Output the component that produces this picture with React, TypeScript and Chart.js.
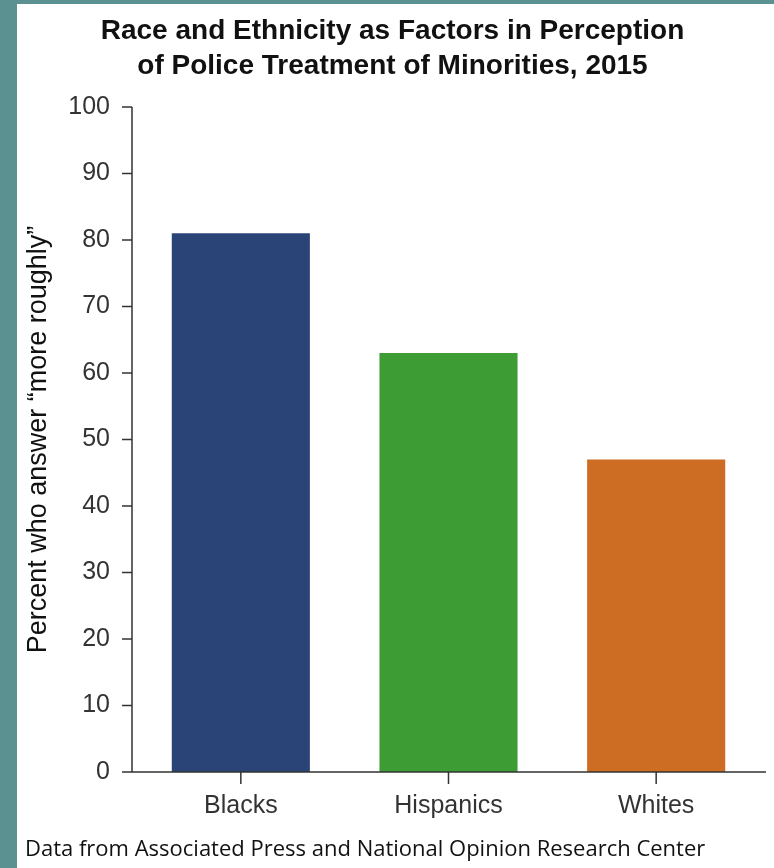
import React, { useEffect, useRef } from "react";
import { Chart, registerables } from "chart.js";

Chart.register(...registerables);

const categories: string[] = ["Blacks", "Hispanics", "Whites"];
const percentMoreRoughly: number[] = [81, 63, 47];
const barColors: string[] = ["#2b4478", "#3d9c34", "#cd6c23"];
const titleLines: string[] = [
  "Race and Ethnicity as Factors in Perception",
  "of Police Treatment of Minorities, 2015",
];
const yAxisTitle = "Percent who answer \u201Cmore roughly\u201D";
const sourceNote = "Data from Associated Press and National Opinion Research Center";
const yMin = 0;
const yMax = 100;
const yStep = 10;

const axisPlugin = {
  id: "customAxes",
  afterDraw(chart: any) {
    const { ctx, chartArea, scales } = chart;
    const y = scales.y;
    const x = scales.x;
    const ax = chartArea.left - 5;
    const y0 = y.getPixelForValue(yMin);
    const yTop = y.getPixelForValue(yMax);
    ctx.save();
    ctx.strokeStyle = "#333333";
    ctx.lineWidth = 1.5;
    ctx.beginPath();
    ctx.moveTo(ax, yTop);
    ctx.lineTo(ax, y0);
    ctx.moveTo(ax - 10, y0);
    ctx.lineTo(chartArea.right + 6, y0);
    y.ticks.forEach((t: any) => {
      const py = y.getPixelForValue(t.value);
      ctx.moveTo(ax - 10, py);
      ctx.lineTo(ax, py);
    });
    x.ticks.forEach((_t: any, i: number) => {
      const px = x.getPixelForValue(i);
      ctx.moveTo(px, y0);
      ctx.lineTo(px, y0 + 12);
    });
    ctx.stroke();
    ctx.restore();
  },
};

export default function App() {
  const canvasRef = useRef<HTMLCanvasElement | null>(null);

  useEffect(() => {
    if (!canvasRef.current) return;
    const chart = new Chart(canvasRef.current, {
      type: "bar",
      data: {
        labels: categories,
        datasets: [
          {
            data: percentMoreRoughly,
            backgroundColor: barColors,
            borderWidth: 0,
            categoryPercentage: 1,
            barPercentage: 0.665,
          },
        ],
      },
      options: {
        responsive: false,
        animation: false,
        devicePixelRatio: 1,
        layout: { padding: { left: 8, right: 14, top: 0, bottom: 0 } },
        plugins: {
          legend: { display: false },
          tooltip: { enabled: false },
          title: {
            display: true,
            text: titleLines,
            color: "#111111",
            font: { family: "'Liberation Sans', Arial, sans-serif", size: 28, weight: "bold", lineHeight: "35px" },
            padding: { top: 9.5, bottom: 23.5 },
          },
          subtitle: {
            display: true,
            position: "bottom",
            align: "start",
            text: sourceNote,
            color: "#111111",
            font: { family: "'Open Sans', sans-serif", size: 22, lineHeight: "24px" },
            padding: { top: 0, bottom: 6 },
          },
        },
        scales: {
          x: {
            grid: { display: false, drawTicks: false },
            border: { display: false },
            ticks: {
              color: "#333333",
              font: { family: "'Liberation Sans', Arial, sans-serif", size: 25 },
              padding: 19,
            },
            afterFit: (s: any) => {
              s.height = 66;
            },
          },
          y: {
            min: yMin,
            max: yMax,
            grid: { display: false, drawTicks: false },
            border: { display: false },
            ticks: {
              stepSize: yStep,
              color: "#333333",
              font: { family: "'Liberation Sans', Arial, sans-serif", size: 25 },
              padding: 27,
            },
            title: {
              display: true,
              text: yAxisTitle,
              color: "#111111",
              font: { family: "'Liberation Sans', Arial, sans-serif", size: 27, lineHeight: 1 },
              padding: { top: 0, bottom: 0 },
            },
            afterFit: (s: any) => {
              s.width = 112;
            },
          },
        },
      },
      plugins: [axisPlugin],
    });
    return () => chart.destroy();
  }, []);

  return (
    <div
      style={{
        position: "absolute",
        left: 0,
        top: 0,
        width: 774,
        height: 868,
        background: "#5b9190",
        overflow: "hidden",
      }}
    >
      <div
        style={{
          position: "absolute",
          left: 17,
          top: 4,
          width: 757,
          height: 864,
          background: "#ffffff",
        }}
      >
        <canvas ref={canvasRef} width={757} height={864} style={{ display: "block" }} />
      </div>
    </div>
  );
}
